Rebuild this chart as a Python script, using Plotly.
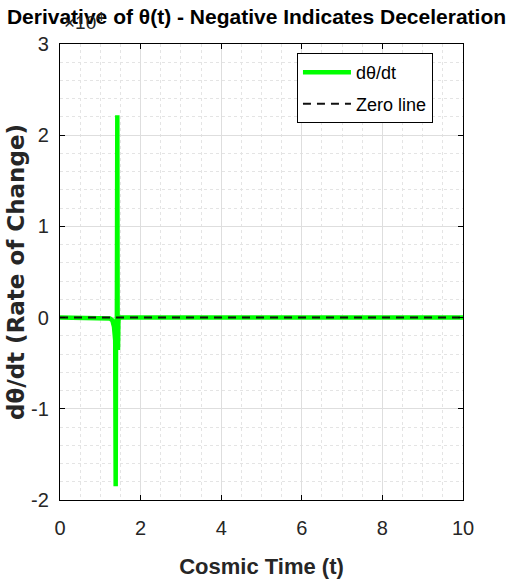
import plotly.graph_objects as go

# Data (dθ/dt values in units of 1e4)
t_vals = [0.0, 0.5, 1.0, 1.15, 1.24, 1.30, 1.34, 1.37, 1.382, 1.39, 1.41, 1.422, 1.43, 1.44, 1.45, 1.5, 2.0, 3.0, 4.0, 5.0, 6.0, 7.0, 8.0, 9.0, 10.0]
dtheta_e4 = [0.0, 0.0, 0.0, -0.003, -0.01, -0.03, -0.1, -0.25, -1.85, -0.3, -0.32, 2.22, -0.33, -0.33, -0.02, 0.0, 0.0, 0.0, 0.0, 0.0, 0.0, 0.0, 0.0, 0.0, 0.0]
zero_t = [0.0, 10.0]
zero_v = [0.0, 0.0]

x_ticks = [0, 2, 4, 6, 8, 10]
x_ticklabels = ["0", "2", "4", "6", "8", "10"]
y_ticks = [-2, -1, 0, 1, 2, 3]
y_ticklabels = ["-2", "-1", "0", "1", "2", "3"]

title_text = "Derivative of θ(t) - Negative Indicates Deceleration"
x_label = "Cosmic Time (t)"
y_label = "dθ/dt (Rate of Change)"

SANS = "Liberation Sans, Arial, sans-serif"

fig = go.Figure()
fig.add_trace(go.Scatter(x=t_vals, y=dtheta_e4, mode="lines", name="dθ/dt", legendgroup="a",
                         line=dict(color="#00ff00", width=4.5)))
fig.add_trace(go.Scatter(x=zero_t, y=zero_v, mode="lines", name="Zero line", legendgroup="b",
                         line=dict(color="#111111", width=2, dash="8px,6px")))

axis_common = dict(
    showline=True, linecolor="black", linewidth=1.2, mirror="ticks",
    ticks="inside", ticklen=5, tickcolor="black",
    showgrid=True, gridcolor="#dedede", gridwidth=1, zeroline=False,
    tickfont=dict(family=SANS, size=20, color="#262626"),
    automargin=False,
)

fig.update_layout(
    width=513, height=587,
    margin=dict(l=60, r=50, t=44, b=87),
    paper_bgcolor="white", plot_bgcolor="white",
    title=dict(text="<b>" + title_text + "</b>", x=0.5, xanchor="center", y=0.972, yanchor="middle",
               font=dict(family=SANS, size=21, color="black")),
    xaxis=dict(range=[0, 10], tickvals=x_ticks, ticktext=x_ticklabels, ticklabelstandoff=10,
               minor=dict(dtick=0.5, showgrid=True, gridcolor="#e4e4e4", griddash="dot", ticks=""),
               title=dict(text="<b>" + x_label + "</b>", font=dict(family=SANS, size=22, color="#262626"), standoff=20),
               **axis_common),
    yaxis=dict(range=[-2, 3], tickvals=y_ticks, ticktext=y_ticklabels, ticklabelstandoff=6,
               minor=dict(dtick=0.2, showgrid=True, gridcolor="#e4e4e4", griddash="dot", ticks=""),
               title=dict(text="<b>" + y_label + "</b>", font=dict(family="DejaVu Sans", size=23, color="#262626"), standoff=0),
               **axis_common),
    legend=dict(x=0.588, y=0.98, xanchor="left", yanchor="top",
                bgcolor="white", bordercolor="black", borderwidth=1,
                font=dict(family=SANS, size=18, color="black"),
                itemwidth=48, tracegroupgap=5),
    showlegend=True,
)

fig.add_annotation(text="×10<sup>4</sup>", xref="paper", yref="paper", x=0.006, y=1.02,
                   xanchor="left", yanchor="bottom", showarrow=False,
                   font=dict(family=SANS, size=19, color="#262626"))

fig.write_html("out.html")
